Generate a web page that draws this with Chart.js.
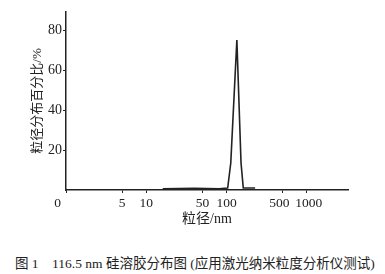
<!DOCTYPE html>
<html>
<head>
<meta charset="utf-8">
<script src="https://cdn.jsdelivr.net/npm/chart.js@4"></script>
<style>
html, body { margin: 0; padding: 0; background: #fff; }
#wrap { position: relative; width: 385px; height: 274px; }
#box { position: absolute; left: 0; top: 0; width: 385px; height: 240px; }
#caption {
    position: absolute; left: 15px; top: 252px;
    font: 13.5px 'Liberation Serif', 'Noto Sans CJK SC', serif;
    color: #222; white-space: pre;
}
</style>
</head>
<body>
<div id="wrap">
    <div id="box"><canvas id="chart" width="385" height="240"></canvas></div>
    <div id="caption">图 1    116.5 nm 硅溶胶分布图 (应用激光纳米粒度分析仪测试)</div>
</div>
<script>
const sizes    = [16, 40, 80, 103, 112.5, 134, 151, 161, 226];
const percents = [0.6, 0.8, 0.6, 1, 13.5, 75, 13.5, 1, 1];

const xTicks      = [1, 5, 10, 50, 100, 500, 1000];
const xTickLabels = ['0     ', '5', '10', '50', '100', '500  ', ' 1000'];
const yTicks      = [20, 40, 60, 80];

const serif = "'Liberation Serif', 'Noto Sans CJK SC', serif";
const ink = '#222';

const ctx = document.getElementById('chart').getContext('2d');
new Chart(ctx, {
    type: 'line',
    data: {
        datasets: [{
            data: sizes.map((s, i) => ({ x: s, y: percents[i] })),
            borderColor: ink,
            borderWidth: 1.6,
            pointRadius: 0,
            tension: 0,
            fill: false
        }]
    },
    options: {
        responsive: false,
        animation: false,
        layout: { padding: { top: 12, right: 37, left: 0, bottom: 0 } },
        plugins: { legend: { display: false }, tooltip: { enabled: false } },
        scales: {
            x: {
                type: 'logarithmic',
                min: 1, max: 3240,
                afterBuildTicks: (scale) => { scale.ticks = xTicks.map(v => ({ value: v })); },
                afterFit: (scale) => { scale.height = 50; },
                border: { display: true, color: ink, width: 1.5 },
                grid: { drawOnChartArea: false, drawTicks: true, tickLength: 3, color: ink },
                ticks: {
                    autoSkip: false, maxRotation: 0, padding: 2,
                    color: ink, font: { family: serif, size: 13.5 },
                    callback: (v, i) => xTickLabels[i]
                },
                title: {
                    display: true, text: '粒径/nm', color: ink,
                    font: { family: serif, size: 14 },
                    padding: { top: 0, bottom: 12 }
                }
            },
            y: {
                min: 0, max: 89,
                afterBuildTicks: (scale) => { scale.ticks = yTicks.map(v => ({ value: v })); },
                afterFit: (scale) => { scale.width = 66; },
                border: { display: true, color: ink, width: 1.5 },
                grid: { drawOnChartArea: false, drawTicks: true, tickLength: 3, color: ink },
                ticks: {
                    padding: 1, color: ink,
                    font: { family: serif, size: 14 }
                },
                title: {
                    display: true, text: '粒径分布百分比/%', color: ink,
                    font: { family: serif, size: 13 },
                    padding: { top: 30, bottom: 0 }
                }
            }
        }
    }
});
</script>
</body>
</html>
